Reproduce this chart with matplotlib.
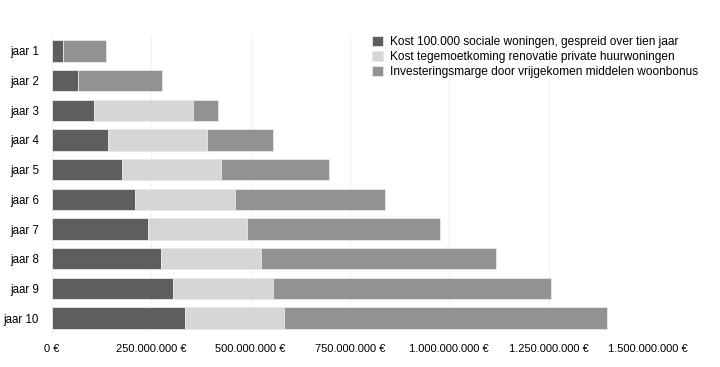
import matplotlib.pyplot as plt
import numpy as np
from matplotlib.ticker import FuncFormatter

plt.rcParams['font.family'] = ['Liberation Sans', 'DejaVu Sans']

years = ["jaar 1", "jaar 2", "jaar 3", "jaar 4", "jaar 5",
         "jaar 6", "jaar 7", "jaar 8", "jaar 9", "jaar 10"]

# values in euro
sociale_woningen = [27e6, 65e6, 106e6, 140e6, 175e6, 210e6, 242e6, 275e6, 305e6, 335e6]
renovatie_private = [0, 0, 250e6, 250e6, 250e6, 250e6, 250e6, 250e6, 250e6, 250e6]
investeringsmarge = [110e6, 212e6, 61e6, 167e6, 272e6, 377e6, 485e6, 592e6, 702e6, 812e6]

labels = ["Kost 100.000 sociale woningen, gespreid over tien jaar",
          "Kost tegemoetkoming renovatie private huurwoningen",
          "Investeringsmarge door vrijgekomen middelen woonbonus"]
colors = ["#5e5e5e", "#d6d6d6", "#929292"]

fig = plt.figure(figsize=(7.2, 3.67), dpi=100)
ax = fig.add_axes([52/720, 34/367, (648-52)/720, (333-36)/367])

y = np.arange(len(years))
left = np.zeros(len(years))
for vals, col, lab in zip([sociale_woningen, renovatie_private, investeringsmarge], colors, labels):
    vals = np.array(vals)
    ax.barh(y, vals, left=left, height=0.72, color=col, label=lab,
            edgecolor="#e8e8e8", linewidth=0.6, zorder=3)
    left = left + vals

ax.set_yticks(y)
ax.set_yticklabels(years, fontsize=8.3)
ax.set_ylim(len(years) - 0.5, -0.5)
ax.set_xlim(0, 1.5e9)
ax.set_xticks(np.arange(0, 1.5e9 + 1, 250e6))
ax.xaxis.set_major_formatter(FuncFormatter(lambda v, p: "{:,.0f} €".format(v).replace(",", ".")))
ax.tick_params(axis="x", labelsize=8, length=0, pad=8)
ax.tick_params(axis="y", length=0, pad=9.5)
ax.grid(axis="x", color="#f2f2f2", linewidth=0.8, zorder=0)
for s in ax.spines.values():
    s.set_visible(False)

fig.legend(loc="upper left", bbox_to_anchor=(372/720, 1 - 36/367), frameon=False,
           fontsize=8.6, handlelength=0.95, handleheight=0.95, handletextpad=0.55,
           labelspacing=0.22, borderpad=0, borderaxespad=0)

plt.savefig("out.png", dpi=100)
